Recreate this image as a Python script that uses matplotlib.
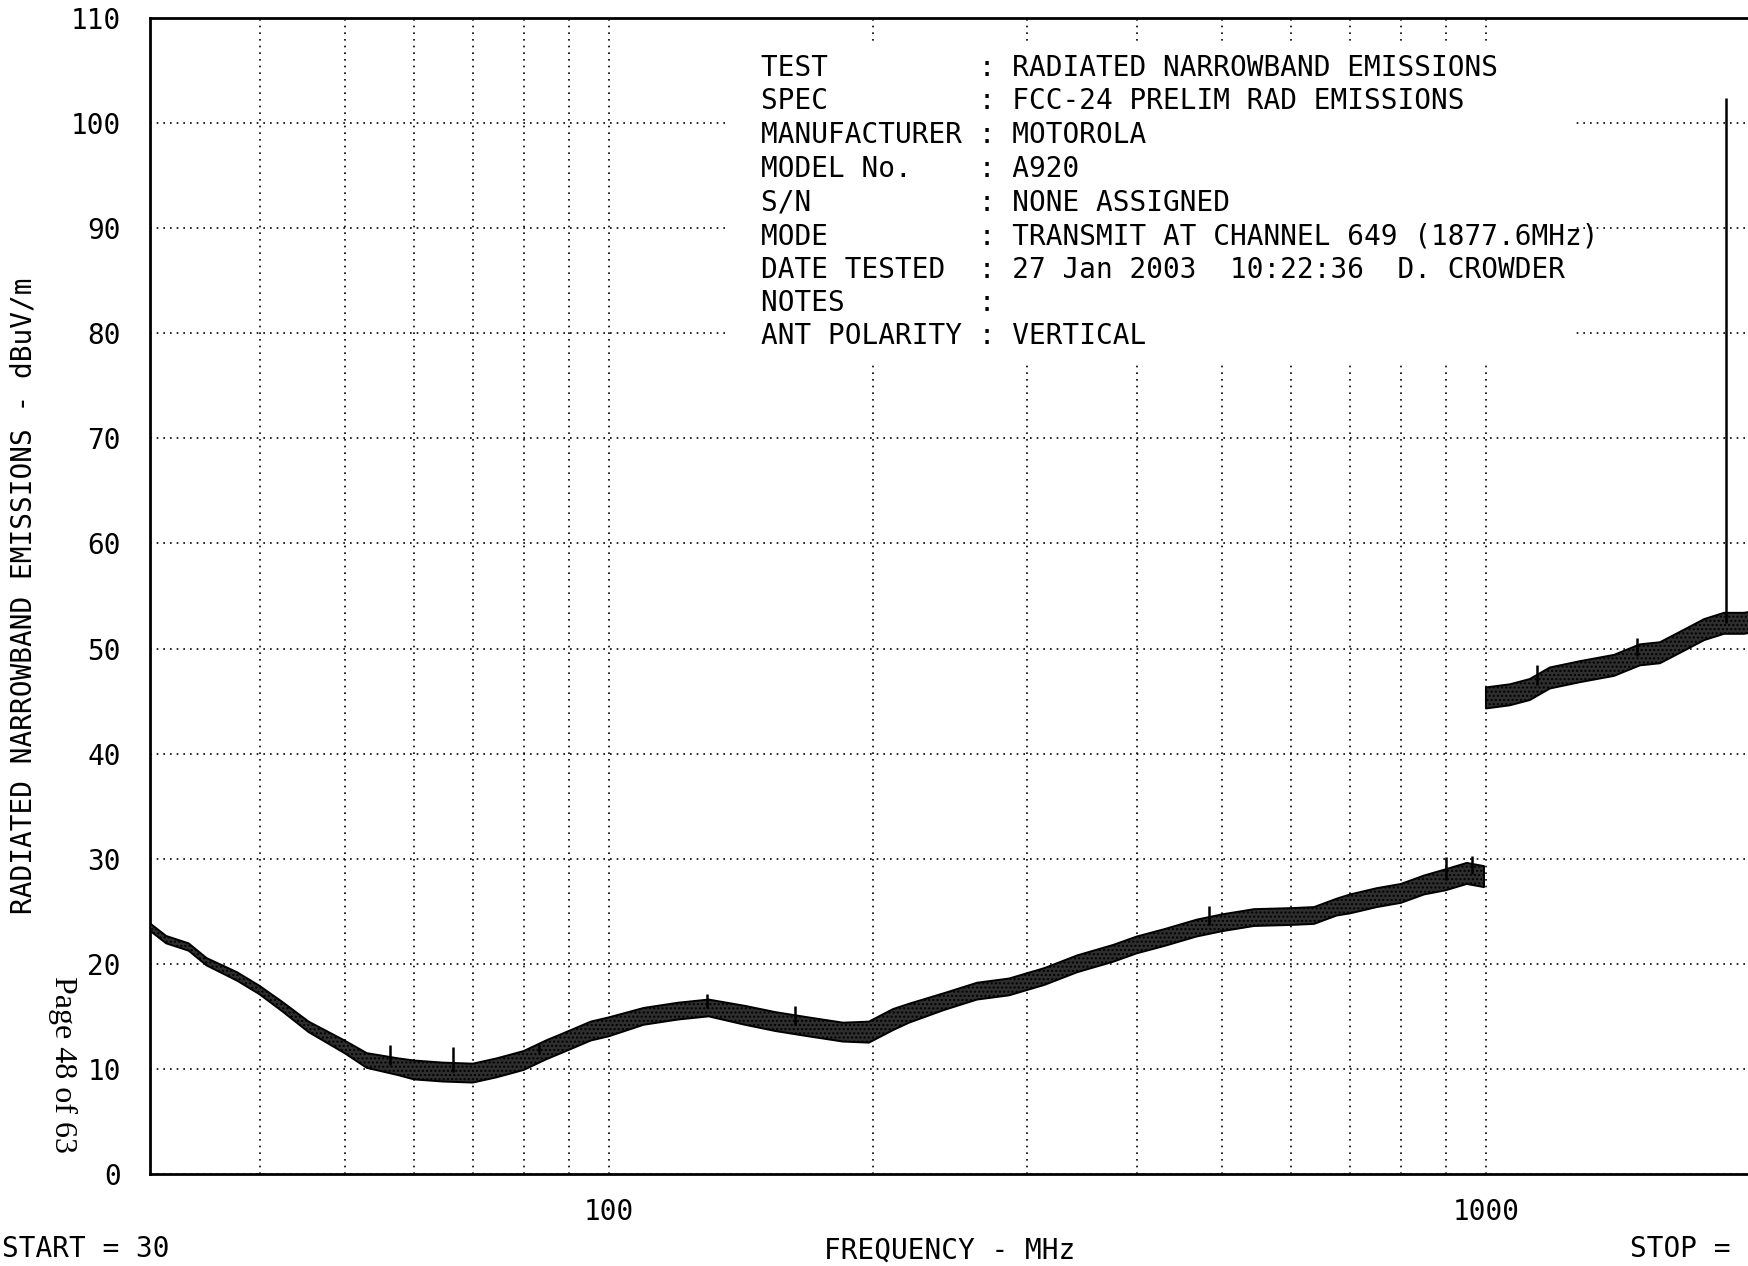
import numpy as np
import matplotlib
matplotlib.use('Agg')
import matplotlib.pyplot as plt
from matplotlib.patches import Rectangle

# ------------------------------------------------------------------
# data (MHz, dBuV/m)
# ------------------------------------------------------------------
lo_freq = [30, 31.3, 33.2, 34.8, 37.7, 40, 42.5, 45.5, 50, 53,
           57.6, 60, 64.7, 70, 74.5, 80, 84.8, 90, 95.4, 100,
           109.6, 120, 130, 143, 155, 169, 185, 198, 211, 220,
           241, 263, 286, 314, 342, 376, 400, 430, 468, 500,
           544, 600, 637, 676, 700, 751, 800, 850, 900, 951, 995]
lo_level = [23.5, 22.3, 21.6, 20.2, 18.8, 17.5, 15.9, 14.0, 12.1, 10.8,
            10.2, 9.9, 9.7, 9.6, 10.1, 10.8, 11.8, 12.7, 13.6, 14.0,
            15.0, 15.5, 15.8, 15.1, 14.5, 14.0, 13.5, 13.5, 14.7, 15.3,
            16.4, 17.4, 17.8, 18.8, 20.0, 21.0, 21.8, 22.5, 23.4, 23.9,
            24.4, 24.5, 24.6, 25.4, 25.7, 26.3, 26.7, 27.5, 28.0, 28.6, 28.3]
lo_spread = [0.35, 0.35, 0.35, 0.35, 0.4, 0.4, 0.45, 0.5, 0.6, 0.7,
             0.8, 0.9, 0.9, 0.9, 0.9, 0.9, 0.9, 0.9, 0.9, 0.9,
             0.8, 0.8, 0.8, 0.9, 0.9, 0.9, 0.9, 1.0, 1.0, 0.9,
             0.8, 0.8, 0.8, 0.8, 0.8, 0.8, 0.8, 0.8, 0.8, 0.8,
             0.8, 0.8, 0.8, 0.8, 0.9, 0.9, 0.9, 0.9, 1.0, 1.0, 1.0]

hi_freq = [1000, 1065, 1122, 1183, 1280, 1400, 1498, 1579, 1665, 1773, 1868, 1969, 2000]
hi_level = [45.3, 45.6, 46.1, 47.2, 47.8, 48.4, 49.4, 49.6, 50.6, 51.8, 52.4, 52.4, 52.5]
hi_spread = [1.0, 1.0, 1.0, 1.0, 1.0, 1.0, 1.0, 1.0, 1.0, 1.0, 1.0, 1.0, 1.0]

spike_freq = [56.3, 66.4, 83.2, 129.4, 163, 484, 901, 965, 1143, 1487, 1877.6]
spike_top = [12.3, 12.1, 12.3, 17.1, 16.0, 25.5, 30.2, 30.3, 48.4, 51.0, 102.4]

yticks = [0, 10, 20, 30, 40, 50, 60, 70, 80, 90, 100, 110]
xticks_major = [100, 1000]
xticks_minor = [40, 50, 60, 70, 80, 90, 200, 300, 400, 500, 600, 700, 800, 900]

header_labels = ["TEST", "SPEC", "MANUFACTURER", "MODEL No.", "S/N", "MODE",
                 "DATE TESTED", "NOTES", "ANT POLARITY"]
header_values = ["RADIATED NARROWBAND EMISSIONS", "FCC-24 PRELIM RAD EMISSIONS",
                 "MOTOROLA", "A920", "NONE ASSIGNED",
                 "TRANSMIT AT CHANNEL 649 (1877.6MHz)",
                 "27 Jan 2003  10:22:36  D. CROWDER", "", "VERTICAL"]

MONO = 'DejaVu Sans Mono'
FS = 20

# ------------------------------------------------------------------
fig = plt.figure(figsize=(17.48, 12.66), dpi=100)
ax = fig.add_axes([150 / 1748, 92 / 1266, 1600 / 1748, 1156 / 1266])

ax.set_xscale('log')
ax.set_xlim(30, 2000)
ax.set_ylim(0, 110)

# white area behind the header block (hides grid)
ax.add_patch(Rectangle((0.3625, 0.7024), 0.5281, 0.2766, transform=ax.transAxes,
                       facecolor='white', edgecolor='none', zorder=1.8))

def draw_trace(f, lvl, spr):
    f = np.asarray(f, float)
    lvl = np.asarray(lvl, float)
    spr = np.asarray(spr, float)
    ax.fill_between(f, lvl - spr, lvl + spr, facecolor='#2e2e2e',
                    edgecolor='black', linewidth=1.4, hatch='....', zorder=3)

draw_trace(lo_freq, lo_level, lo_spread)
draw_trace(hi_freq, hi_level, hi_spread)

# spikes
all_f = np.array(lo_freq + hi_freq, float)
all_l = np.array(lo_level + hi_level, float)
order = np.argsort(all_f)
for f, top in zip(spike_freq, spike_top):
    base = np.interp(np.log10(f), np.log10(all_f[order]), all_l[order])
    ax.vlines(f, base, top, color='black', linewidth=1.8, zorder=3)

# grid
ax.set_xticks(xticks_major)
ax.set_xticks(xticks_minor, minor=True)
ax.set_xticklabels([str(v) for v in xticks_major])
ax.set_yticks(yticks)
ax.set_yticklabels([str(v) for v in yticks])
ax.tick_params(which='both', length=0)
ax.tick_params(axis='y', pad=21)
ax.tick_params(axis='x', pad=17)
for lbl in ax.get_xticklabels() + ax.get_yticklabels():
    lbl.set_fontfamily(MONO)
    lbl.set_fontsize(FS)
ax.grid(True, which='both', axis='x', color='black', linestyle=(0, (1, 3)), linewidth=1.2)
ax.grid(True, which='major', axis='y', color='black', linestyle=(0, (1, 3)), linewidth=1.2)

for s in ['left', 'bottom', 'top']:
    ax.spines[s].set_linewidth(2)
ax.spines['right'].set_visible(False)

# header block
y_rows = [68, 101.4, 134.9, 169.4, 202.9, 236.3, 269.8, 303.2, 335.6]
for lab, val, yp in zip(header_labels, header_values, y_rows):
    fig.text(761 / 1748, 1 - yp / 1266, f"{lab:<12s} : {val}", family=MONO,
             fontsize=FS, va='center', ha='left', zorder=5)

# axis captions
fig.text(24 / 1748, 1 - 596 / 1266, "RADIATED NARROWBAND EMISSIONS - dBuV/m",
         family=MONO, fontsize=FS, rotation=90, va='center', ha='center')
fig.text(63 / 1748, 1 - 1065 / 1266, "Page 48 of 63", family='Liberation Serif',
         fontsize=23, rotation=-90, va='center', ha='center')
fig.text(2 / 1748, 1 - 1249 / 1266, "START = 30", family=MONO, fontsize=FS,
         va='center', ha='left')
fig.text(950 / 1748, 1 - 1251 / 1266, "FREQUENCY - MHz", family=MONO, fontsize=FS,
         va='center', ha='center')
fig.text(1630 / 1748, 1 - 1249 / 1266, "STOP =", family=MONO, fontsize=FS,
         va='center', ha='left')

fig.savefig('out.png', dpi=100)
